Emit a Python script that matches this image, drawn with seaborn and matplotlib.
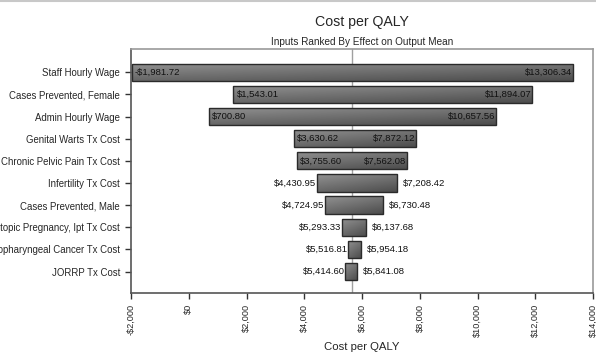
import numpy as np
import pandas as pd
import matplotlib
matplotlib.use("Agg")
import matplotlib.pyplot as plt
import matplotlib.ticker as mticker
from matplotlib.lines import Line2D
import seaborn as sns

# Tornado inputs, ranked by effect on the output mean
inputs = [
    "Staff Hourly Wage",
    "Cases Prevented, Female",
    "Admin Hourly Wage",
    "Genital Warts Tx Cost",
    "Chronic Pelvic Pain Tx Cost",
    "Infertility Tx Cost",
    "Cases Prevented, Male",
    "Ectopic Pregnancy, Ipt Tx Cost",
    "Oropharyngeal Cancer Tx Cost",
    "JORRP Tx Cost",
]
low_values = [-1981.72, 1543.01, 700.80, 3630.62, 3755.60,
              4430.95, 4724.95, 5293.33, 5516.81, 5414.60]
high_values = [13306.34, 11894.07, 10657.56, 7872.12, 7562.08,
               7208.42, 6730.48, 6137.68, 5954.18, 5841.08]
output_mean = 5660.0
x_ticks = [-2000, 0, 2000, 4000, 6000, 8000, 10000, 12000, 14000]

df = pd.DataFrame({"input": inputs, "low": low_values, "high": high_values})
df["span"] = df["high"] - df["low"]

sns.set_style("white")
plt.rcParams["font.family"] = ["Liberation Sans", "DejaVu Sans"]

fig = plt.figure(figsize=(5.96, 3.54), dpi=100)
ax = fig.add_axes([131 / 596, 1 - 293 / 354, (593 - 131) / 596, (293 - 49) / 354])

sns.barplot(data=df, x="span", y="input", orient="h", ax=ax,
            width=0.78, color="#808080", edgecolor="#2a2a2a", linewidth=1.0,
            zorder=3)

# move each bar so it starts at its low value
for patch, lo in zip(ax.patches, df["low"]):
    patch.set_x(lo)

# shaded fill for the bars
grad_y = np.linspace(0, 1, 32)[:, None]
grad_x = np.linspace(0, 1, 64)[None, :]
shade = 0.57 - 0.17 * grad_y - 0.10 * grad_x
for patch in ax.patches:
    x0, y0 = patch.get_x(), patch.get_y()
    w, h = patch.get_width(), patch.get_height()
    img = ax.imshow(shade, cmap="gray", vmin=0, vmax=1, aspect="auto",
                    extent=[x0, x0 + w, y0 + h, y0], origin="upper",
                    zorder=2, interpolation="bilinear")
    img.set_clip_path(patch)
    patch.set_facecolor("none")
ax.set_xlim(-2000, 14000)
ax.set_ylim(len(inputs) - 0.03, -1.05)

# mean reference line
ax.axvline(output_mean, color="#a0a0a0", lw=1.0, zorder=1)

# value labels
fs_val = 6.8
for i, (lo, hi) in enumerate(zip(df["low"], df["high"])):
    if hi - lo > 3500:
        ax.text(lo + 110, i, f"{'-' if lo < 0 else ''}${abs(lo):,.2f}",
                ha="left", va="center", fontsize=fs_val, color="#111111", zorder=5)
        ax.text(hi - 30, i, f"${hi:,.2f}",
                ha="right", va="center", fontsize=fs_val, color="#111111", zorder=5)
    else:
        ax.text(lo - 20, i, f"${lo:,.2f}",
                ha="right", va="center", fontsize=fs_val, color="#111111", zorder=5)
        ax.text(hi + 200, i, f"${hi:,.2f}",
                ha="left", va="center", fontsize=fs_val, color="#111111", zorder=5)

def money(v, _pos):
    return f"-${abs(v):,.0f}" if v < 0 else f"${v:,.0f}"

ax.set_xticks(x_ticks)
ax.xaxis.set_major_formatter(mticker.FuncFormatter(money))
ax.tick_params(axis="x", labelrotation=90, labelsize=6.6, length=4, width=1,
               color="#333333", bottom=True, pad=4)
ax.tick_params(axis="y", labelsize=6.9, length=4, width=1, color="#333333",
               left=True, pad=4)
ax.set_ylabel("")
ax.set_xlabel("")

for side, sp in ax.spines.items():
    sp.set_visible(True)
    sp.set_color("#9a9a9a")
    sp.set_linewidth(1.2)
ax.spines["left"].set_color("#555555")
ax.spines["bottom"].set_color("#555555")

fig.text(362 / 596, 1 - 22 / 354, "Cost per QALY", ha="center", va="center",
         fontsize=10.2)
fig.text(362 / 596, 1 - 42 / 354, "Inputs Ranked By Effect on Output Mean",
         ha="center", va="center", fontsize=7.2)
fig.text(362 / 596, 1 - 347 / 354, "Cost per QALY", ha="center", va="center",
         fontsize=8.2)

# thin border along the top of the canvas
fig.add_artist(Line2D([0, 1], [0.997, 0.997], transform=fig.transFigure,
                      color="#c8c8c8", lw=1.5))

fig.savefig("out.png", dpi=100)
